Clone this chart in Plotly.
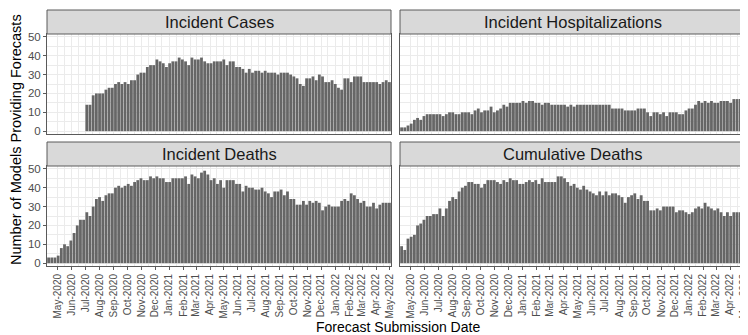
import plotly.graph_objects as go
import pandas as pd

# weekly forecast submission dates (108 weeks)
dates = pd.date_range("2020-04-11", "2022-04-30", freq="7D")

panel_titles = ["Incident Cases", "Incident Hospitalizations", "Incident Deaths", "Cumulative Deaths"]

cases = [0, 0, 0, 0, 0, 0, 0, 0, 0, 0, 0, 0,
         14, 14, 19, 20, 20, 20, 22, 23, 23, 25, 26, 25, 26, 25, 27, 27, 30, 31, 31, 34,
         35, 35, 38, 37, 36, 34, 36, 37, 37, 39, 38, 37, 35, 39, 38, 38, 39, 37, 36, 36,
         37, 37, 37,
         38, 35, 37, 37, 34, 34, 33, 31, 33, 31, 32, 32, 31, 32, 31, 31, 31, 30, 31, 31,
         31, 30, 29, 28, 25, 24, 28, 28, 29, 27, 30, 29, 26, 26, 27, 25, 23, 22, 28, 28,
         26, 29, 29, 29, 26, 26, 26, 26, 26, 25, 26, 27, 26]

hosp = [2, 2, 3, 4, 6, 7, 6, 8, 9, 9, 9, 9, 9, 8, 9, 10, 10, 9, 9, 10,
        10, 10, 9, 11, 12, 10, 11, 11, 13, 10, 11, 12, 14, 13, 15, 15, 15, 15, 16, 15,
        16, 16, 15, 15, 14, 15, 15, 14, 14, 14, 14, 14, 13, 14, 13, 14, 14, 14, 14, 14,
        14, 14, 14, 14, 14, 14, 12, 12, 12, 12, 11, 11, 11, 11, 12, 12, 12, 10, 8, 10,
        10, 9, 10, 8, 10, 10, 10, 9, 9, 11, 12, 12, 14, 16, 15, 16, 15, 16, 15, 15,
        16, 16, 16, 15, 17, 17, 17, 17]

inc_deaths = [3, 3, 3, 4, 8, 10, 9, 12, 16, 20, 23, 23, 27, 25, 30, 34, 35, 33, 36, 37,
              37, 40, 41, 40, 41, 42, 41, 43, 44, 45, 44, 44, 46, 45, 46, 45, 45, 43, 43, 45,
              45, 45, 45, 46, 42, 47, 46, 45, 48, 49, 47, 44, 45, 42, 44, 40, 44, 44, 44, 42,
              42, 38, 41, 40, 40, 39, 39, 40, 38, 37, 35, 38, 38, 39, 36, 38, 34, 34, 31, 31,
              33, 31, 33, 32, 33, 32, 28, 30, 31, 30, 30, 30, 33, 34, 33, 37, 36, 34, 32, 33,
              30, 30, 32, 29, 31, 32, 32, 32]

cum_deaths = [9, 7, 13, 14, 15, 20, 21, 23, 25, 25, 26, 26, 29, 25, 29, 33, 35, 34, 38, 40,
              41, 43, 43, 42, 42, 40, 42, 44, 44, 44, 43, 42, 44, 43, 45, 44, 44, 42, 42, 43,
              44, 43, 44, 42, 45, 43, 43, 43, 43, 46, 46, 45, 43, 41, 42, 40, 39, 41, 39, 38,
              37, 36, 38, 36, 38, 36, 37, 37, 36, 35, 32, 35, 36, 37, 34, 36, 33, 33, 28, 28,
              29, 28, 30, 30, 30, 30, 27, 28, 28, 27, 26, 27, 29, 30, 29, 32, 30, 29, 28, 29,
              27, 25, 27, 25, 27, 27, 27, 27]

y_ticks = [0, 10, 20, 30, 40, 50]
minor_x = pd.date_range("2020-04-16", "2022-04-16", freq="MS") + pd.Timedelta(days=15)

FONT = "Liberation Sans, Arial, sans-serif"
BAR = "#666666"
LINE = "#5a5a5a"
GRID = "#EBEBEB"

series = [cases, hosp, inc_deaths, cum_deaths]
W, H = 748, 335
ml, mr, mt, mb = 39, 11, 2, 77
pw = W - ml - mr
ph = H - mt - mb

def px_x(x):
    return (x - ml) / pw

def px_y(y):
    return (H - mb - y) / ph

xdoms = [[0, px_x(383)], [px_x(392), 1.0]]
ydoms = [[px_y(126), px_y(26)], [0, px_y(158)]]
strip_y = [[px_y(26), px_y(2)], [px_y(158), px_y(134)]]

fig = go.Figure()
shapes = []
annotations = []
for i, (vals, title) in enumerate(zip(series, panel_titles)):
    r, c = divmod(i, 2)
    n = i + 1
    xa = "x" if n == 1 else f"x{n}"
    ya = "y" if n == 1 else f"y{n}"
    fig.add_trace(go.Bar(x=dates, y=vals, xaxis=xa, yaxis=ya,
                         marker=dict(color=BAR, line=dict(width=0)),
                         showlegend=False))
    xkey = "xaxis" if n == 1 else f"xaxis{n}"
    ykey = "yaxis" if n == 1 else f"yaxis{n}"
    bottom = r == 1
    left = c == 0
    fig.layout[xkey] = dict(
        domain=xdoms[c], anchor=ya, type="date",
        range=["2020-04-07 12:00", "2022-05-03 12:00"],
        tick0="2020-05-01", dtick="M1", tickformat="%b-%Y", tickangle=-90,
        showticklabels=bottom, ticks="outside" if bottom else "",
        ticklabeloverflow="allow",
        ticklen=3, tickcolor=LINE, tickwidth=1,
        tickfont=dict(family=FONT, size=10, color="#4D4D4D"),
        showgrid=True, gridcolor=GRID, gridwidth=1,
        minor=dict(tickmode="array", tickvals=list(minor_x), showgrid=True,
                   gridcolor=GRID, gridwidth=0.6, ticks=""),
        showline=True, mirror=True, linecolor=LINE, linewidth=1, zeroline=False,
    )
    fig.layout[ykey] = dict(
        domain=ydoms[r], anchor=xa, range=[-1.5, 51.5],
        tickmode="array", tickvals=y_ticks,
        showticklabels=left, ticks="outside" if left else "",
        ticklen=3, tickcolor=LINE, tickwidth=1,
        tickfont=dict(family=FONT, size=11.5, color="#4D4D4D"),
        showgrid=True, gridcolor=GRID, gridwidth=1,
        minor=dict(dtick=5, tick0=0, showgrid=True, gridcolor=GRID, gridwidth=0.6, ticks=""),
        showline=True, mirror=True, linecolor=LINE, linewidth=1, zeroline=False,
    )
    shapes.append(dict(type="rect", xref="paper", yref="paper",
                       x0=xdoms[c][0], x1=xdoms[c][1], y0=strip_y[r][0], y1=strip_y[r][1],
                       fillcolor="#D9D9D9", line=dict(color=LINE, width=1), layer="above"))
    annotations.append(dict(text=title, xref="paper", yref="paper",
                            x=(xdoms[c][0] + xdoms[c][1]) / 2,
                            y=(strip_y[r][0] + strip_y[r][1]) / 2,
                            xanchor="center", yanchor="middle", showarrow=False,
                            font=dict(family=FONT, size=16.5, color="#1A1A1A")))

annotations.append(dict(text="Forecast Submission Date", xref="paper", yref="paper",
                        x=px_x(390), y=px_y(319), xanchor="center", yanchor="middle",
                        showarrow=False, font=dict(family=FONT, size=14, color="#000000")))
annotations.append(dict(text="Number of Models Providing Forecasts", xref="paper", yref="paper",
                        x=px_x(8), y=px_y(132), xanchor="center", yanchor="middle",
                        textangle=-90, showarrow=False,
                        font=dict(family=FONT, size=14.5, color="#000000")))

fig.update_layout(
    width=W, height=H, margin=dict(l=ml, r=mr, t=mt, b=mb, autoexpand=False),
    paper_bgcolor="white", plot_bgcolor="white", bargap=0.12,
    shapes=shapes, annotations=annotations,
    font=dict(family=FONT),
)

fig.write_html("out.html")
